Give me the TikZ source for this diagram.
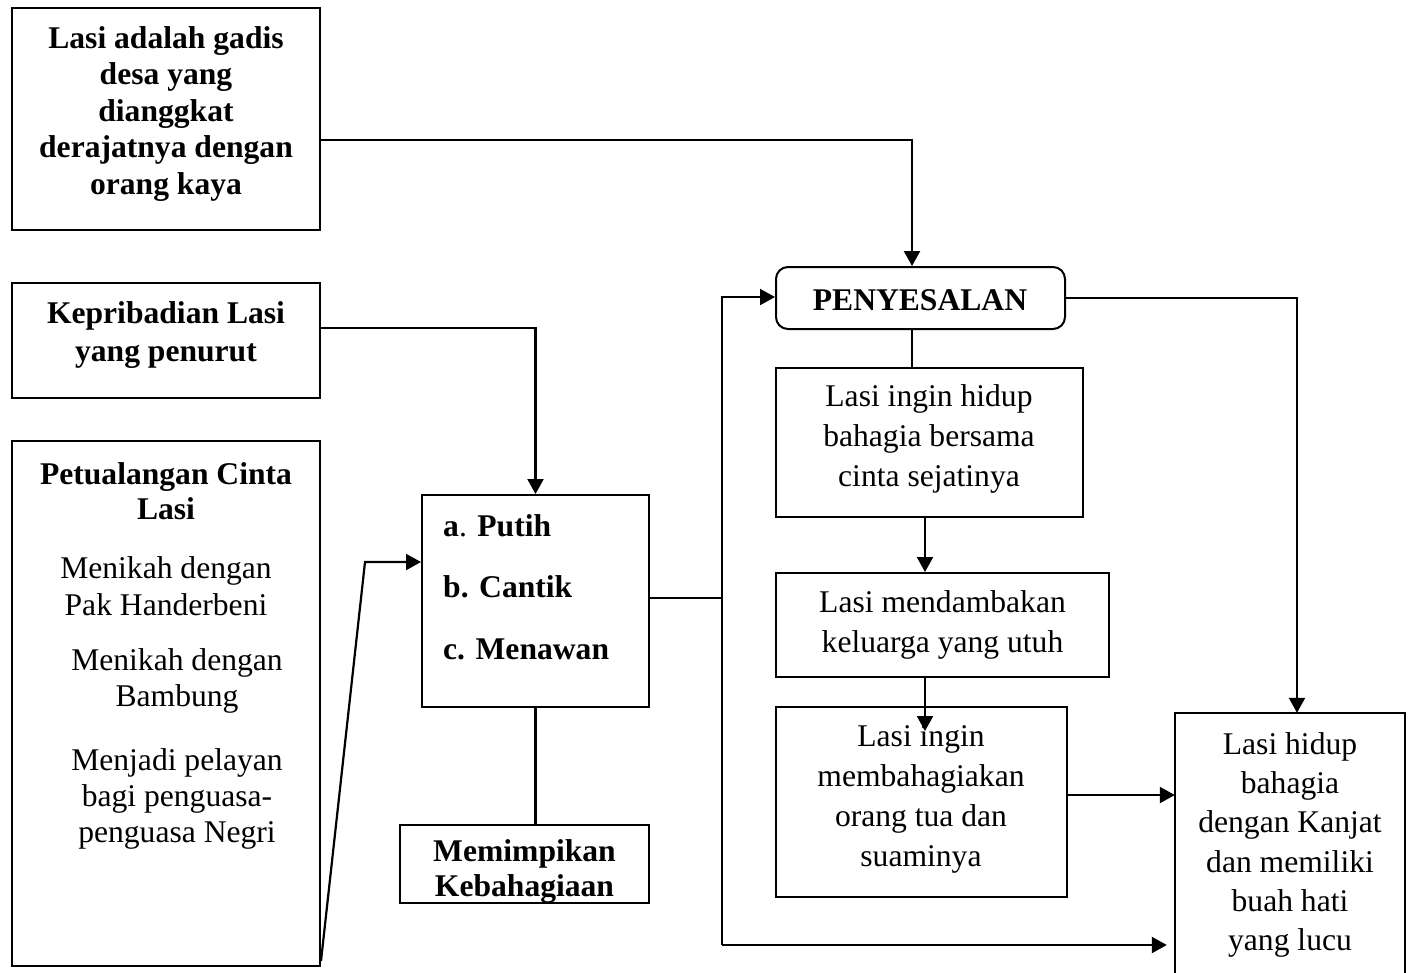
\documentclass[tikz,border=0pt]{standalone}
\usepackage{fontspec}
\setmainfont{Liberation Serif}
\usetikzlibrary{arrows.meta,calc}
\tikzset{
  box/.style={draw, line width=2pt, inner sep=0pt},
  nobox/.style={inner sep=0pt},
  txt/.style={inner sep=0pt, align=center},
  ln/.style={line width=2.2pt},
  arr/.style={line width=2.2pt, -{Triangle[length=15pt,width=16pt]}},
}
\newcommand{\bs}[1]{\fontsize{31.6}{#1}\selectfont}
\begin{document}
\begin{tikzpicture}[x=1pt,y=-1pt,font=\bs{38}]
\useasboundingbox (0,0) rectangle (1413,972);
% boxes
\node[box, minimum width=308pt, minimum height=222pt] (b1) at (166,119) {};
\node[box, minimum width=308pt, minimum height=115pt] (b2) at (166,340.5) {};
\node[box, minimum width=308pt, minimum height=525pt] (b3) at (166,703.5) {};
\node[box, minimum width=227pt, minimum height=212pt] (babc) at (535.5,601) {};
\node[box, minimum width=249pt, minimum height=78pt] (bm) at (524.5,864) {};
\node[box, rounded corners=12pt, minimum width=289pt, minimum height=62pt] (bp) at (920.5,298) {};
\node[box, minimum width=307pt, minimum height=149pt] (bh) at (929.5,442.5) {};
\node[box, minimum width=333pt, minimum height=104pt] (bmd) at (942.5,625) {};
\node[box, minimum width=291pt, minimum height=190pt] (bmb) at (921.5,802) {};
\node[nobox, minimum width=230pt, minimum height=274pt] (br) at (1290,850) {};
\draw[line width=2pt] (br.south west) |- (br.north east) -- (br.south east);
% texts
\node[txt, font=\bs{36.5}\bfseries] (t1) at (166,114) {Lasi adalah gadis\\desa yang\\dianggkat\\derajatnya dengan\\orang kaya};
\node[txt, font=\bs{38}\bfseries] (t2) at (166,335) {Kepribadian Lasi\\yang penurut};
\node[txt, font=\bs{35}\bfseries] (t3a) at (166,491.5) {Petualangan Cinta\\Lasi};
\node[txt, font=\bs{37}] (t3b) at (166,586) {Menikah dengan\\Pak Handerbeni};
\node[txt, font=\bs{36}] (t3c) at (177,681) {Menikah dengan\\Bambung};
\node[txt, font=\bs{36}] (t3d) at (177,799) {Menjadi pelayan\\bagi penguasa-\\penguasa Negri};
\node[txt, align=left, anchor=west, font=\bs{61.5}\bfseries] (tabc) at (443,587) {a{\mdseries.} Putih\\b. Cantik\\c. Menawan};
\node[txt, font=\bs{35}\bfseries] (tm) at (524.5,872) {Memimpikan\\Kebahagiaan};
\node[txt, font=\bs{38}\bfseries] (tp) at (920,300) {PENYESALAN};
\node[txt, font=\bs{40}] (th) at (929,439) {Lasi ingin hidup\\bahagia bersama\\cinta sejatinya};
\node[txt, font=\bs{40}] (tmd) at (942.5,625) {Lasi mendambakan\\keluarga yang utuh};
\node[txt, font=\bs{40}] (tmb) at (921,799) {Lasi ingin\\membahagiakan\\orang tua dan\\suaminya};
\node[txt, font=\bs{39.2}] (tr) at (1290,845) {Lasi hidup\\bahagia\\dengan Kanjat\\dan memiliki\\buah hati\\yang lucu};
% helper coordinates
\coordinate (cx) at (912,0);
\coordinate (cx2) at (925,0);
\coordinate (cx3) at (1297,0);
\coordinate (k) at (365,562);
\coordinate (j1) at (722,297);
\coordinate (j2) at (722,945);
\coordinate (e) at ($(br.west |- j2)+(-8,0)$);
% connectors
\draw[arr] ([yshift=-21pt]b1.east) -| (bp.north -| cx);
\draw[arr] ([yshift=12.5pt]b2.east) -| (babc.north);
\draw[arr] ([yshift=6pt]b3.south east) -- (k) -- (babc.west |- k);
\draw[ln] ([yshift=3pt]babc.east) -- (j1 |- 0,598);
\draw[arr] (j2) -- (j1) -- (bp.west |- j1);
\draw[arr] (j2) -- (e);
\draw[ln] (babc.south) -- (babc.south |- bm.north);
\draw[ln] (bp.south -| cx) -- (bh.north -| cx);
\draw[arr] (bh.south -| cx2) -- (bmd.north -| cx2);
\draw[arr] (bmd.south -| cx2) -- ++(0,53);
\draw[arr] ([yshift=7pt]bmb.east) coordinate (q) -- (q -| br.west);
\draw[arr] (bp.east) -| (br.north -| cx3);
\end{tikzpicture}
\end{document}
